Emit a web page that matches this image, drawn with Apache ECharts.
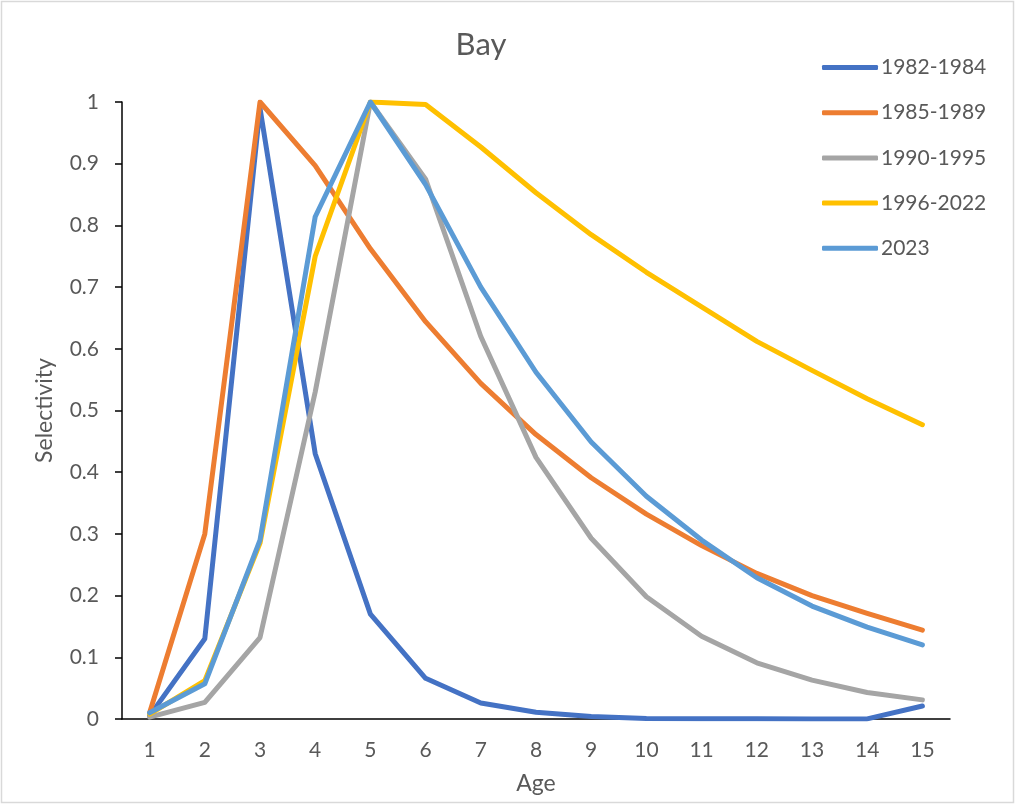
<!DOCTYPE html>
<html>
<head>
<meta charset="utf-8">
<script src="https://cdn.jsdelivr.net/npm/echarts@6/dist/echarts.min.js"></script>
<style>
html,body{margin:0;padding:0;background:#fff;}
#chart{width:1016px;height:805px;}
</style>
</head>
<body>
<div id="chart"></div>
<script>
var ages = ['1','2','3','4','5','6','7','8','9','10','11','12','13','14','15'];
var seriesNames = ['1982-1984','1985-1989','1990-1995','1996-2022','2023'];
var s1982_1984 = [0.005,0.13,0.99,0.43,0.17,0.066,0.026,0.011,0.004,0.001,0.0005,0.0003,0.0002,0.0002,0.021];
var s1985_1989 = [0.01,0.30,1.0,0.897,0.762,0.644,0.544,0.461,0.391,0.332,0.281,0.236,0.2,0.171,0.144];
var s1990_1995 = [0.003,0.027,0.132,0.53,1.0,0.875,0.62,0.424,0.293,0.198,0.134,0.091,0.063,0.043,0.031];
var s1996_2022 = [0.008,0.062,0.285,0.75,1.0,0.996,0.927,0.853,0.785,0.724,0.668,0.612,0.565,0.519,0.477];
var s2023 = [0.01,0.057,0.29,0.814,1.0,0.866,0.70,0.562,0.449,0.361,0.29,0.229,0.183,0.149,0.12];
var colors = ['#4472C4','#ED7D31','#A5A5A5','#FFC000','#5B9BD5'];
var allData = [s1982_1984, s1985_1989, s1990_1995, s1996_2022, s2023];

var FONT = 'Lato';
var TXT = '#595959';
var chart = echarts.init(document.getElementById('chart'));
var series = seriesNames.map(function(n, i){
  return {
    name: n, type: 'line', data: allData[i], symbol: 'none',
    lineStyle: {width: 5, color: colors[i], cap: 'round', join: 'round'},
    itemStyle: {color: colors[i]},
    z: 2 + i
  };
});
chart.setOption({
  backgroundColor: '#fff',
  animation: false,
  graphic: [{
    type: 'rect', shape: {x: 1.5, y: 1.5, width: 1012, height: 801},
    style: {fill: 'none', stroke: '#D9D9D9', lineWidth: 1.5}, z: -1
  }],
  title: {
    text: 'Bay', left: 476, top: 24, textAlign: 'center',
    textStyle: {fontFamily: FONT, fontSize: 31, fontWeight: 'normal', color: TXT}
  },
  legend: {
    orient: 'vertical', left: 817, top: 52,
    itemWidth: 56, itemHeight: 5, itemGap: 24.2, icon: 'roundRect',
    textStyle: {fontFamily: FONT, fontSize: 21, color: TXT, lineHeight: 20, padding: [0,0,0,-2]},
    data: seriesNames
  },
  grid: {left: 122, right: 66, top: 102, bottom: 86},
  xAxis: {
    type: 'category', data: ages, boundaryGap: true,
    name: 'Age', nameLocation: 'middle', nameGap: 53,
    nameTextStyle: {fontFamily: FONT, fontSize: 23, color: TXT},
    axisLine: {lineStyle: {color: '#000', width: 1.5}},
    axisTick: {show: false},
    axisLabel: {fontFamily: FONT, fontSize: 21, color: TXT, margin: 21}
  },
  yAxis: {
    type: 'value', min: 0, max: 1, interval: 0.1,
    name: 'Selectivity', nameLocation: 'middle', nameGap: 66, nameRotate: 90,
    nameTextStyle: {fontFamily: FONT, fontSize: 23, color: TXT},
    axisLine: {show: true, lineStyle: {color: '#000', width: 1.5}},
    axisTick: {show: true, length: 7, lineStyle: {color: '#000', width: 1.5}},
    splitLine: {show: false},
    axisLabel: {fontFamily: FONT, fontSize: 21, color: TXT, margin: 23,
      formatter: function(v){ return String(Math.round(v*10)/10); }}
  },
  series: series
});
</script>
</body>
</html>
